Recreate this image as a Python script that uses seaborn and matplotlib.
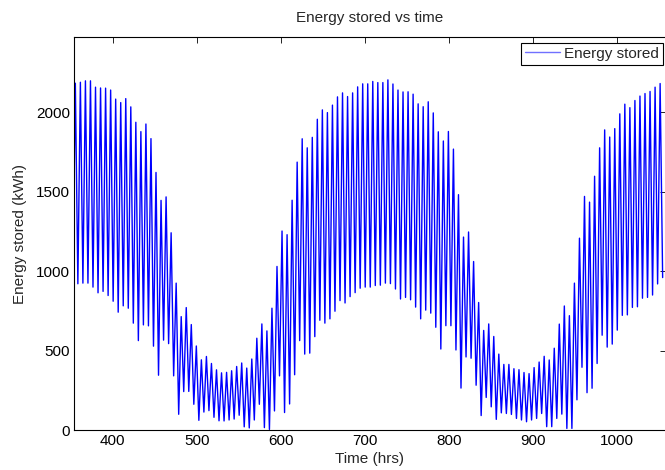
import numpy as np
import pandas as pd
import seaborn as sns
import matplotlib.pyplot as plt

# Peak and trough of every 6 hour cycle (kWh)
peaks = [2184, 2190, 2199, 2199, 2159, 2154, 2153, 2141, 2084, 2062, 2087, 2035, 1938, 1879, 1927, 1835, 1622,
         1446, 1468, 1242, 925, 714, 771, 664, 529, 442, 463, 419, 379, 360, 363, 373, 400,
         422, 390, 447, 578, 668, 624, 767, 1030, 1253, 1230, 1447, 1687, 1834, 1777, 1843, 1957,
         2016, 1999, 2046, 2098, 2123, 2100, 2123, 2161, 2180, 2180, 2195, 2188, 2188, 2205, 2179, 2141, 2129,
         2130, 2115, 2054, 2036, 2067, 1997, 1878, 1820, 1880,
         1769, 1482, 1215, 1247, 1061, 803, 627, 668, 589, 478, 413, 413, 386, 380, 362, 355, 393, 428, 464,
         441, 515, 667, 781, 720,
         925, 1208, 1471, 1435, 1598, 1777, 1890, 1845, 1898, 1991, 2052, 2030, 2075, 2103, 2119, 2132, 2159, 2182]
troughs = [921, 925, 925, 900, 864, 873, 847, 811, 742, 782, 767, 673, 563, 662, 656, 528, 345, 566, 544,
           341, 99, 242, 243, 162, 61, 113, 122, 80, 58, 57, 63, 69, 93, 20, 13, 63,
           162, 15, 4, 120, 341, 110, 164, 348, 563, 478, 484, 588, 691,
           673, 700, 748, 815, 800, 840, 865, 893, 900, 900, 910, 912, 925, 922, 888, 825, 835,
           820, 774, 700, 755, 736, 647, 510, 657, 657, 504, 264, 460, 452, 282, 91, 205,
           146, 67, 108, 104, 98, 73, 63, 52, 63, 73, 104, 21, 21, 73, 100, 10, 10,
           190, 395, 235, 263, 419, 597, 522, 541, 629, 722, 725, 772, 776, 830, 835, 850, 920, 960]
first_trough = 920      # trough just left of the visible window
first_peak_hour = 355.5
cycle_hrs = 6

# interleave: trough, peak, trough, peak, ...
energia = [first_trough]
for p, t in zip(peaks, troughs):
    energia += [p, t]
horas = first_peak_hour - cycle_hrs / 2 + np.arange(len(energia)) * cycle_hrs / 2
df = pd.DataFrame({"hora": horas, "energia": energia})

sns.set_style("white")
plt.rcParams["font.family"] = ["Liberation Sans", "DejaVu Sans"]
plt.rcParams["font.size"] = 11

fig = plt.figure(figsize=(6.65, 4.7), dpi=100)
ax = fig.add_axes([74 / 665, 40 / 470, 591.5 / 665, 393 / 470])

sns.lineplot(data=df, x="hora", y="energia", color="blue", linewidth=1.0,
             label="Energy stored", ax=ax)

ax.set_xlim(353.9, 1057.9)
ax.set_ylim(0, 2475)
ax.set_xticks([400, 500, 600, 700, 800, 900, 1000])
ax.set_yticks([0, 500, 1000, 1500, 2000])
ax.tick_params(direction="in", length=4, width=0.6, top=True, right=True,
               labelsize=11, pad=3, colors="black")
for s in ax.spines.values():
    s.set_color("black")
    s.set_linewidth(0.8)

ax.set_title("Energy stored vs time", fontsize=11, pad=11)
ax.set_xlabel("Time (hrs)", fontsize=11, labelpad=3)
ax.set_ylabel("Energy stored (kWh)", fontsize=11, labelpad=6)

leg = ax.legend(loc="upper right", bbox_to_anchor=(663 / 665, 1 - 43 / 470),
                bbox_transform=fig.transFigure, borderaxespad=0, fancybox=False,
                edgecolor="black", framealpha=1, fontsize=11, handlelength=2.3,
                handletextpad=0.3, borderpad=0.25)
leg.get_frame().set_linewidth(0.8)
leg.get_lines()[0].set_color("#7070ff")

fig.savefig("out.png", dpi=100)
